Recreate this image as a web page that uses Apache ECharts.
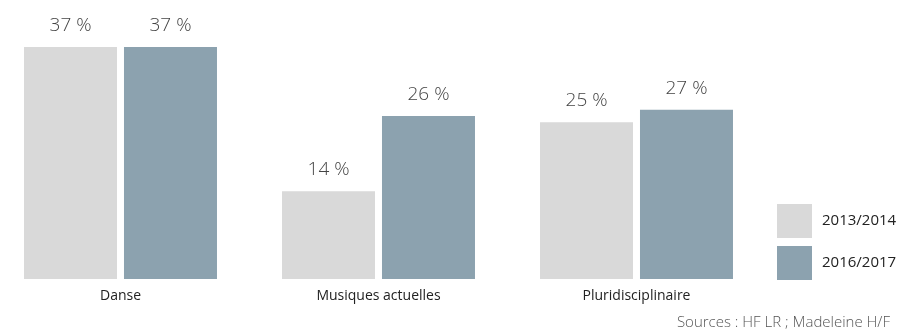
<!DOCTYPE html>
<html><head><meta charset="utf-8">
<script src="https://cdn.jsdelivr.net/npm/echarts@6/dist/echarts.min.js"></script>
<style>html,body{margin:0;padding:0;background:#fff;overflow:hidden}#c{position:relative;left:-9px;width:909px;height:334px}</style>
</head><body><div id="c"></div>
<script>
const categories = ["Danse", "Musiques actuelles", "Pluridisciplinaire"];
const seriesNames = ["2013/2014", "2016/2017"];
const values2013 = [37, 14, 25];
const values2016 = [37, 26, 27];
const sourceText = "Sources : HF LR ; Madeleine H/F";

const colors = ["#d9d9d9", "#8ca2af"];
const chart = echarts.init(document.getElementById('c'), null, {renderer: 'canvas'});
const labelStyle = {
  show: true, position: 'top', distance: 12,
  formatter: p => p.value + ' %',
  fontFamily: 'Open Sans', fontWeight: 300, fontSize: 19, color: '#444'
};
chart.setOption({
  animation: false,
  color: colors,
  grid: {left: 0.5, right: 134.5, top: 47, bottom: 55, containLabel: false},
  xAxis: {
    type: 'category', data: categories,
    axisLine: {show: false}, axisTick: {show: false},
    axisLabel: {margin: 10, fontFamily: 'Open Sans', fontSize: 14, color: '#222'}
  },
  yAxis: {type: 'value', min: 0, max: 37, show: false, splitLine: {show: false}},
  legend: {
    orient: 'vertical', left: 786, top: 204, padding: 0,
    itemWidth: 35, itemHeight: 34, itemGap: 8,
    icon: 'rect',
    textStyle: {fontFamily: 'Open Sans', fontSize: 15, color: '#222', padding: [0, 0, 0, 5]},
    data: seriesNames
  },
  graphic: [{
    type: 'text', right: 10, top: 315,
    style: {text: sourceText, fontFamily: 'Open Sans', fontWeight: 300, fontSize: 15, fill: '#555'}
  }],
  series: [
    {name: seriesNames[0], type: 'bar', data: values2013, barWidth: 93, barGap: '7.5%', label: labelStyle},
    {name: seriesNames[1], type: 'bar', data: values2016, barWidth: 93, barGap: '7.5%', label: labelStyle}
  ]
});
</script></body></html>
